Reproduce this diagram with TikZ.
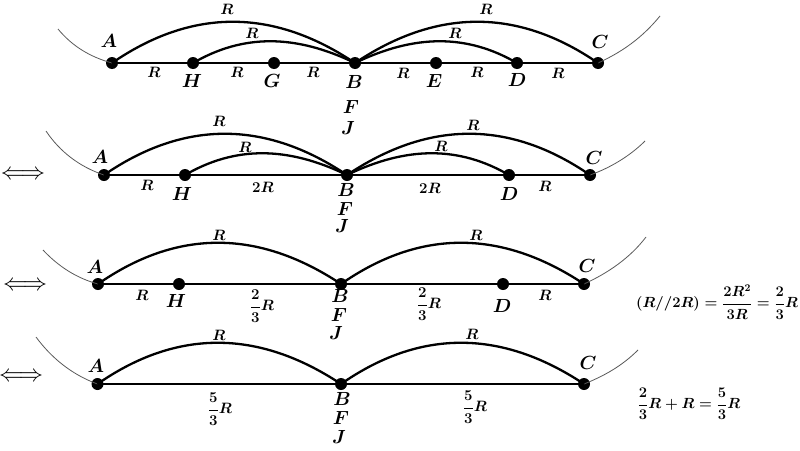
\RequirePackage{fix-cm}
\documentclass[tikz,border=0pt]{standalone}
\usepackage{amsmath}
\tikzset{
  dotn/.style={circle,fill=black,draw=none,inner sep=0pt,minimum size=12pt},
  wire/.style={line width=2.3pt,black},
  arcw/.style={line width=2.3pt,black},
  thin curve/.style={line width=0.8pt,black!65},
  pt/.style={inner sep=0pt,font=\fontsize{19}{19}\selectfont},
  val/.style={inner sep=0pt,font=\fontsize{15}{15}\selectfont},
  eqn/.style={inner sep=0pt,font=\fontsize{14.7}{15}\selectfont},
  dbl/.style={inner sep=0pt,font=\fontsize{24}{24}\selectfont},
}
\newcommand{\bm}[1]{\mbox{\boldmath$#1$}}
\newcommand{\bfr}[2]{\mbox{\boldmath$\dfrac{#1}{#2}R$}}
\begin{document}
\begin{tikzpicture}[x=1pt,y=-1pt]
\useasboundingbox (0,0) rectangle (800,450);
% Row 1
\foreach \n/\x in {A1/112,H1/193,G1/274,B1/355,E1/436,D1/517,C1/598}{\node[dotn] (\n) at (\x,63) {};}
\coordinate (L1) at (58,29); \coordinate (R1) at (660,16);
\draw[thin curve] (L1) .. controls (72,46) and (90,57) .. (A1.center);
\draw[thin curve] (C1.center) .. controls (622,52) and (642,38) .. (R1);
\draw[wire] (A1.center) -- (C1.center);
\draw[arcw] (A1.center) .. controls +(80,-55) and +(-82,-55) .. (B1.center);
\draw[arcw] (H1.center) .. controls +(50,-29) and +(-60,-29) .. (B1.center);
\draw[arcw] (B1.center) .. controls +(82,-55) and +(-80,-55)  .. (C1.center);
\draw[arcw] (B1.center) .. controls +(60,-29) and +(-50,-29) .. (D1.center);
\node[pt] (tA1) at (109,41) {\bm{A}};
\node[pt] (tH1) at (192,81) {\bm{H}};
\node[pt] (tG1) at (272,81) {\bm{G}};
\node[pt] (tB1) at (354,82) {\bm{B}};
\node[pt] (tF1) at (351,107) {\bm{F}};
\node[pt] (tJ1) at (348,128) {\bm{J}};
\node[pt] (tE1) at (434,81) {\bm{E}};
\node[pt] (tD1) at (517,80) {\bm{D}};
\node[pt] (tC1) at (600,42) {\bm{C}};
\foreach \n/\x/\y in {a/227/9,b/252/33,c/154/72,d/237/72,e/313/72,f/403/73,g/477/72,h/558/73,i/486/9,j/455/33}{\node[val] (r1\n) at (\x,\y) {\bm{R}};}
% Row 2
\foreach \n/\x in {A2/104,H2/185,B2/347,D2/509,C2/590}{\node[dotn] (\n) at (\x,175) {};}
\coordinate (L2) at (46,131); \coordinate (R2) at (645,141);
\draw[thin curve] (L2) .. controls (60,152) and (80,167) .. (A2.center);
\draw[thin curve] (C2.center) .. controls (610,168) and (630,156) .. (R2);
\draw[wire] (A2.center) -- (C2.center);
\draw[arcw] (A2.center) .. controls +(80,-55) and +(-82,-55) .. (B2.center);
\draw[arcw] (H2.center) .. controls +(50,-29) and +(-60,-29) .. (B2.center);
\draw[arcw] (B2.center) .. controls +(82,-55) and +(-80,-55) .. (C2.center);
\draw[arcw] (B2.center) .. controls +(60,-29) and +(-50,-29) .. (D2.center);
\node[dbl] (eq2) at (23,175) {$\Longleftrightarrow$};
\node[pt] (tA2) at (100,157) {\bm{A}};
\node[pt] (tH2) at (182,194) {\bm{H}};
\node[pt] (tB2) at (346,190) {\bm{B}};
\node[pt] (tF2) at (345,209) {\bm{F}};
\node[pt] (tJ2) at (342,226) {\bm{J}};
\node[pt] (tD2) at (509,194) {\bm{D}};
\node[pt] (tC2) at (594,158) {\bm{C}};
\foreach \n/\x/\y in {a/219/121,b/245/147,c/147/185,d/473/125,e/441/146,f/545/186}{\node[val] (r2\n) at (\x,\y) {\bm{R}};}
\node[val] (r2g) at (263,187) {\bm{2R}};
\node[val] (r2h) at (430,188) {\bm{2R}};
% Row 3
\foreach \n/\x in {A3/98,H3/179,B3/341,D3/503,C3/584}{\node[dotn] (\n) at (\x,284) {};}
\coordinate (L3) at (43,250); \coordinate (R3) at (646,237);
\draw[thin curve] (L3) .. controls (58,266) and (76,278) .. (A3.center);
\draw[thin curve] (C3.center) .. controls (608,273) and (630,258) .. (R3);
\draw[wire] (A3.center) -- (C3.center);
\draw[arcw] (A3.center) .. controls +(79,-55) and +(-83,-55) .. (B3.center);
\draw[arcw] (B3.center) .. controls +(79,-55) and +(-83,-55) .. (C3.center);
\node[dbl] (eq3) at (25,286) {$\Longleftrightarrow$};
\node[pt] (tA3) at (95,267) {\bm{A}};
\node[pt] (tH3) at (176,301) {\bm{H}};
\node[pt] (tB3) at (340,296) {\bm{B}};
\node[pt] (tF3) at (339,315) {\bm{F}};
\node[pt] (tJ3) at (336,333) {\bm{J}};
\node[pt] (tD3) at (502,306) {\bm{D}};
\node[pt] (tC3) at (587,266) {\bm{C}};
\foreach \n/\x/\y in {a/219/235,b/142/295,c/476/235,d/545/295}{\node[val] (r3\n) at (\x,\y) {\bm{R}};}
\node[val] (r3e) at (262,306) {\bfr{2}{3}};
\node[val] (r3f) at (429,304) {\bfr{2}{3}};
\node[eqn] (eqa) at (717,302) {\bm{(R//2R)=\dfrac{2R^2}{3R}=\dfrac{2}{3}R}};
% Row 4
\foreach \n/\x in {A4/97.5,B4/341,C4/584}{\node[dotn] (\n) at (\x,384) {};}
\coordinate (L4) at (36,337); \coordinate (R4) at (638,350);
\draw[thin curve] (L4) .. controls (50,356) and (70,374) .. (A4.center);
\draw[thin curve] (C4.center) .. controls (604,376) and (622,366) .. (R4);
\draw[wire] (A4.center) -- (C4.center);
\draw[arcw] (A4.center) .. controls +(79,-55) and +(-83,-55) .. (B4.center);
\draw[arcw] (B4.center) .. controls +(79,-55) and +(-83,-55) .. (C4.center);
\node[dbl] (eq4) at (21,377) {$\Longleftrightarrow$};
\node[pt] (tA4) at (96,366) {\bm{A}};
\node[pt] (tB4) at (342,399) {\bm{B}};
\node[pt] (tF4) at (341,418) {\bm{F}};
\node[pt] (tJ4) at (339,437) {\bm{J}};
\node[pt] (tC4) at (588,363) {\bm{C}};
\foreach \n/\x/\y in {a/219/335,b/472/334}{\node[val] (r4\n) at (\x,\y) {\bm{R}};}
\node[val] (r4c) at (220,409) {\bfr{5}{3}};
\node[val] (r4d) at (475,407) {\bfr{5}{3}};
\node[eqn] (eqb) at (689,404) {\bm{\dfrac{2}{3}R+R=\dfrac{5}{3}R}};
\end{tikzpicture}
\end{document}
